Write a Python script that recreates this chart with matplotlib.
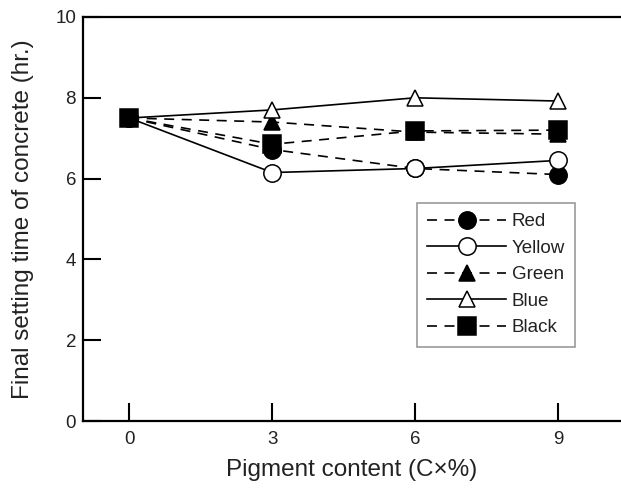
import matplotlib
matplotlib.use("Agg")
import matplotlib.pyplot as plt

plt.rcParams["font.family"] = ["Liberation Sans", "DejaVu Sans"]

pigment = [0, 3, 6, 9]
red = [7.5, 6.72, 6.25, 6.1]
yellow = [7.5, 6.15, 6.25, 6.45]
green = [7.5, 7.4, 7.15, 7.1]
blue = [7.5, 7.7, 8.0, 7.92]
black = [7.5, 6.85, 7.18, 7.2]

dash = (0, (6, 4.5))
series = [
    ("Red", red, "o", "black", dash),
    ("Yellow", yellow, "o", "white", "-"),
    ("Green", green, "^", "black", dash),
    ("Blue", blue, "^", "white", "-"),
    ("Black", black, "s", "black", dash),
]
sizes = {"o": 12.5, "^": 12, "s": 13.5}

fig = plt.figure(figsize=(6.21, 4.88), dpi=100)
ax = fig.add_axes([83 / 621, 67 / 488, 538 / 621, 404 / 488])

for name, values, marker, face, style in series:
    ax.plot(pigment, values, linestyle=style, color="black", linewidth=1.2,
            marker=marker, markersize=sizes[marker], markerfacecolor=face,
            markeredgecolor="black", markeredgewidth=1.1, label=name)

ax.set_xlim(-0.97, 10.32)
ax.set_ylim(0, 10)
ax.set_xticks(pigment)
ax.set_yticks([0, 2, 4, 6, 8, 10])
ax.tick_params(direction="in", length=13, width=1.5, labelsize=13.5,
               labelcolor="#222222", pad=7)
ax.tick_params(axis="y", pad=5)
ax.spines["right"].set_visible(False)
for side in ("left", "top", "bottom"):
    ax.spines[side].set_linewidth(1.6)

ax.set_xlabel("Pigment content (C\u00d7%)", fontsize=17.5, labelpad=8, color="#222222")
ax.set_ylabel("Final setting time of concrete (hr.)", fontsize=17.5, labelpad=15,
              color="#222222")

leg = ax.legend(loc="upper left", bbox_to_anchor=(0.621, 0.54), fontsize=13.5,
                handlelength=4.2, handletextpad=0.3, labelspacing=0.5,
                borderpad=0.55, fancybox=False, frameon=True, borderaxespad=0)
leg.get_frame().set_edgecolor("#808080")
leg.get_frame().set_linewidth(1.2)
for text in leg.get_texts():
    text.set_color("#222222")

fig.savefig("out.png", dpi=100)
